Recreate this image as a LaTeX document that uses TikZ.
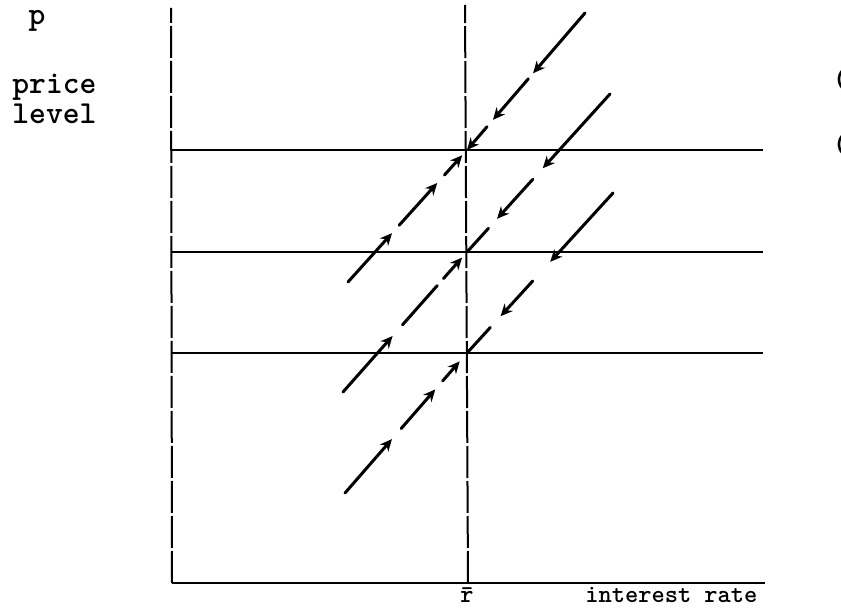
\documentclass[tikz,border=0pt]{standalone}
\usepackage{fontspec}
\usetikzlibrary{calc,arrows.meta}

\begin{document}
\begin{tikzpicture}[x=0.5pt,y=-0.5pt,axis/.style={draw=black,line width=1pt,dash pattern=on 16pt off 1.5pt},level/.style={draw=black,line width=1.2pt},move/.style={draw=black,line width=1.5pt,line cap=round},flow/.style={move,-{Stealth[length=6pt,width=5.5pt]}},lbl/.style={inner sep=0pt,text=black,font=\fontsize{16pt}{18pt}\selectfont\ttfamily\bfseries},small/.style={lbl,font=\fontsize{12.6pt}{14pt}\selectfont\ttfamily\bfseries}]
\useasboundingbox (0,0) rectangle (841,614);
% axes
\coordinate (o) at (172,583);
\coordinate (ytop) at (171,8);
\coordinate (rtop) at (465,5);
\coordinate (rbot) at (468,583);
\coordinate (xend) at (765,583);
\draw[axis] (o) -- (ytop);
\draw[axis] (rbot) -- (rtop);
\draw[level] (o) -- (xend);
% equilibria and price levels
\coordinate (eA) at (467,150);
\coordinate (eB) at (467,252);
\coordinate (eC) at (467,353);
\draw[level] (eA -| o) -- (763,150);
\draw[level] (eB -| o) -- (763,252);
\draw[level] (eC -| o) -- (763,353);
% adjustment paths
\coordinate (hA) at (585,13);
\coordinate (lA) at (348,282);
\coordinate (hB) at (610,94);
\coordinate (lB) at (343,392);
\coordinate (hC) at (613,193);
\coordinate (lC) at (345,493);
\draw[flow] (hA) -- ($(hA)!0.44!(eA)$);
\draw[flow] ($(hA)!0.48!(eA)$) -- ($(hA)!0.78!(eA)$);
\draw[flow] ($(hA)!0.83!(eA)$) -- (eA);
\draw[flow] (lA) -- ($(lA)!0.37!(eA)$);
\draw[flow] ($(lA)!0.43!(eA)$) -- ($(lA)!0.75!(eA)$);
\draw[flow] ($(lA)!0.81!(eA)$) -- ($(lA)!0.96!(eA)$);
\draw[flow] (hB) -- ($(hB)!0.47!(eB)$);
\draw[flow] ($(hB)!0.54!(eB)$) -- ($(hB)!0.79!(eB)$);
\draw[move] ($(hB)!0.85!(eB)$) -- (eB);
\draw[flow] (lB) -- ($(lB)!0.40!(eB)$);
\draw[move] ($(lB)!0.48!(eB)$) -- ($(lB)!0.76!(eB)$);
\draw[flow] ($(lB)!0.81!(eB)$) -- ($(lB)!0.96!(eB)$);
\draw[flow] (hC) -- ($(hC)!0.43!(eC)$);
\draw[flow] ($(hC)!0.55!(eC)$) -- ($(hC)!0.77!(eC)$);
\draw[move] ($(hC)!0.84!(eC)$) -- (eC);
\draw[flow] (lC) -- ($(lC)!0.385!(eC)$);
\draw[flow] ($(lC)!0.46!(eC)$) -- ($(lC)!0.74!(eC)$);
\draw[flow] ($(lC)!0.80!(eC)$) -- ($(lC)!0.94!(eC)$);
% labels
\node[lbl,anchor=base] (p) at (37,25) {p};
\node[lbl,anchor=base west] (price) at (12,94) {price};
\node[lbl,anchor=base west] (level) at (12,124) {level};
\node[small,anchor=base] (rbar) at (467,603) {\=r};
\node[small,anchor=base west] (rate) at (585,603) {interest rate};
\node[lbl,anchor=west] (paren1) at (832,80) {(};
\node[lbl,anchor=west] (paren2) at (832,145) {(};
\end{tikzpicture}
\end{document}
